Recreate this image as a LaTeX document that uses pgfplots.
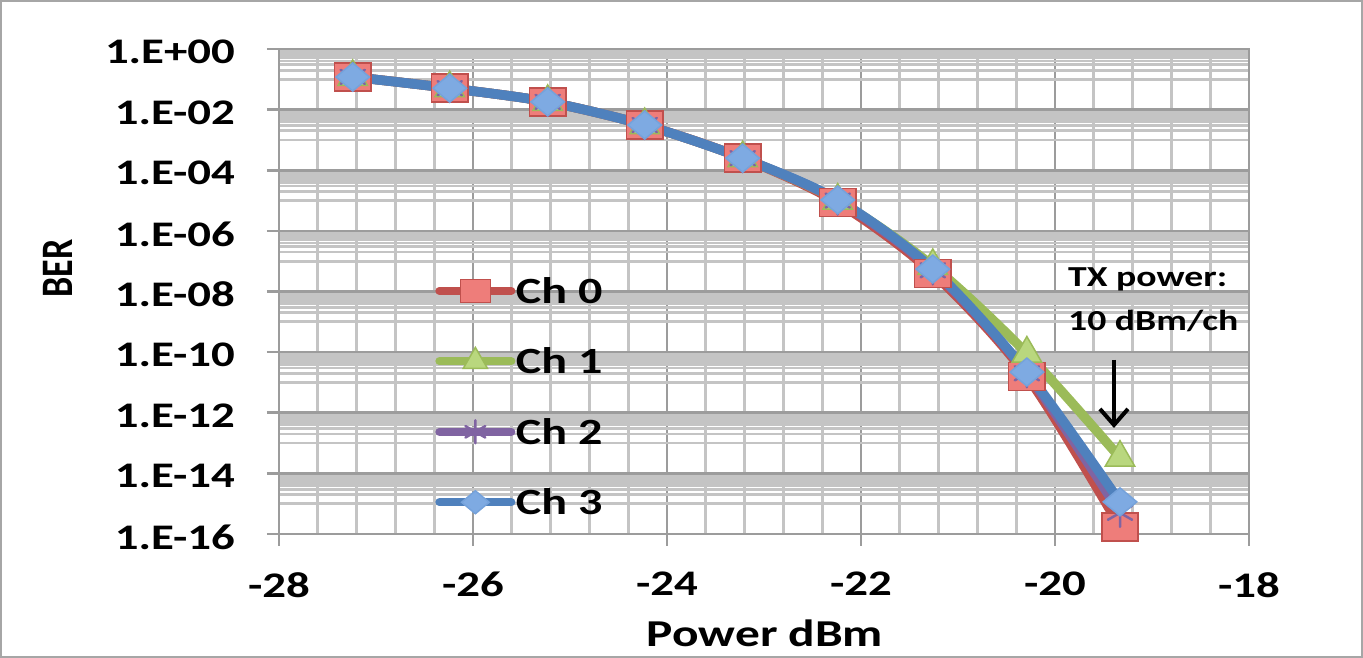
\documentclass[border=0pt]{standalone}
\usepackage{graphicx}
\usepackage{pgfplots}
\pgfplotsset{compat=1.18}
\usepackage{fontspec}
\setmainfont{Carlito}[FakeStretch=1.3]
\newfontfamily\plainfont{Carlito}
\usetikzlibrary{arrows.meta}
\definecolor{cr}{HTML}{C0504D}
\definecolor{crl}{HTML}{EE7D7A}
\definecolor{cg}{HTML}{9BBB59}
\definecolor{cgl}{HTML}{B9D77E}
\definecolor{cp}{HTML}{8064A2}
\definecolor{cb}{HTML}{4F81BD}
\definecolor{cbl}{HTML}{7EAAE2}
\definecolor{majg}{HTML}{9C9C9C}
\definecolor{ming}{HTML}{C4C4C4}
\definecolor{frame}{HTML}{A6A6A6}
\begin{document}
\begin{tikzpicture}
\path[use as bounding box] (0,0) rectangle (1363bp,658bp);
\draw[color=frame, line width=2bp] (1bp,1bp) rectangle (1362bp,657bp);
\begin{axis}[
  at={(279bp,124bp)}, anchor=south west,
  scale only axis, width=970bp, height=485bp,
  ymode=log, xmin=-28, xmax=-18, ymin=1e-16, ymax=1,
  clip=false,
  xtick={-28,-26,-24,-22,-20,-18},
  xticklabels={\textbf{-28},\textbf{-26},\textbf{-24},\textbf{-22},\textbf{-20},\textbf{-18}},
  ytick={1,1e-2,1e-4,1e-6,1e-8,1e-10,1e-12,1e-14,1e-16},
  yticklabels={\textbf{1.E+00},\textbf{1.E-02},\textbf{1.E-04},\textbf{1.E-06},\textbf{1.E-08},\textbf{1.E-10},\textbf{1.E-12},\textbf{1.E-14},\textbf{1.E-16}},
  minor x tick num=4,
  minor ytick={1e-1,2e-1,3e-1,4e-1,5e-1,6e-1,7e-1,8e-1,9e-1,
               1e-3,2e-3,3e-3,4e-3,5e-3,6e-3,7e-3,8e-3,9e-3,
               1e-5,2e-5,3e-5,4e-5,5e-5,6e-5,7e-5,8e-5,9e-5,
               1e-7,2e-7,3e-7,4e-7,5e-7,6e-7,7e-7,8e-7,9e-7,
               1e-9,2e-9,3e-9,4e-9,5e-9,6e-9,7e-9,8e-9,9e-9,
               1e-11,2e-11,3e-11,4e-11,5e-11,6e-11,7e-11,8e-11,9e-11,
               1e-13,2e-13,3e-13,4e-13,5e-13,6e-13,7e-13,8e-13,9e-13,
               1e-15,2e-15,3e-15,4e-15,5e-15,6e-15,7e-15,8e-15,9e-15},
  grid=both,
  major grid style={color=majg, line width=2.7bp},
  minor grid style={color=ming, line width=2.7bp},
  axis line style={color=majg, line width=2.7bp},
  tick pos=left,
  tick align=outside,
  major tick length=12bp,
  minor tick length=0pt,
  tick style={color=majg, line width=2.7bp},
  tick label style={font=\fontsize{36bp}{40bp}\selectfont\bfseries},
  yticklabel style={anchor=east, inner sep=0pt, xshift=-32bp, yshift=-3bp},
  xticklabel style={anchor=north, inner sep=0pt, yshift=-26bp},
  xlabel={\textbf{Power dBm}},
  xlabel style={at={(axis description cs:0.501,-0.204)}, anchor=center, font=\fontsize{38bp}{42bp}\selectfont\bfseries},
  ylabel={\scalebox{1}[1.25]{\plainfont\bfseries BER}},
  ylabel style={at={(axis description cs:-0.2278,0.548)}, anchor=center, font=\fontsize{36bp}{40bp}\selectfont\bfseries},
  legend style={at={(axis description cs:0.161,0.531)}, anchor=north west, draw=none, fill=none, inner sep=0pt, row sep=42bp,
    font=\fontsize{37bp}{40bp}\selectfont\bfseries, nodes={inner sep=0.5bp}},
  legend cell align=left,
  legend image code/.code={\draw[mark repeat=2,mark phase=2,#1,line width=8bp,line cap=round, every mark/.append style={scale=0.82}] plot coordinates {(0bp,0bp) (36bp,0bp) (72bp,0bp)};},
]
\addplot[color=cr, line width=9.5bp, line cap=round, smooth, mark=square*, mark size=14bp,
  mark options={xscale=1.3, fill=crl, draw=cr, line width=1.5bp}]
  coordinates {(-27.24,1.2e-1) (-26.24,5.1e-2) (-25.23,1.8e-2) (-24.23,3.1e-3) (-23.22,2.5e-4) (-22.24,8.5e-6) (-21.26,4e-8) (-20.29,1.6e-11) (-19.33,1.7e-16)};
\addlegendentry{Ch 0}
\addplot[color=cg, line width=9.5bp, line cap=round, smooth, mark=triangle*, mark size=17bp,
  mark options={fill=cgl, draw=cg, line width=1.5bp}]
  coordinates {(-27.24,1.2e-1) (-26.24,5.1e-2) (-25.23,1.8e-2) (-24.23,3.1e-3) (-23.22,2.5e-4) (-22.24,1.0e-5) (-21.26,7e-8) (-20.29,9e-11) (-19.33,3.3e-14)};
\addlegendentry{Ch 1}
\addplot[color=cp, line width=9.5bp, line cap=round, smooth, mark=asterisk, mark size=14bp,
  mark options={draw=cp, line width=2.5bp}]
  coordinates {(-27.24,1.2e-1) (-26.24,5.1e-2) (-25.23,1.8e-2) (-24.23,3.1e-3) (-23.22,2.5e-4) (-22.24,1.0e-5) (-21.26,5e-8) (-20.29,2e-11) (-19.33,5e-16)};
\addlegendentry{Ch 2}
\addplot[color=cb, line width=9.5bp, line cap=round, smooth, mark=diamond*, mark size=14bp,
  mark options={xscale=1.6, fill=cbl, draw=cbl!80!cb, line width=1.5bp}]
  coordinates {(-27.24,1.19e-1) (-26.24,5.1e-2) (-25.23,1.8e-2) (-24.23,3.1e-3) (-23.22,2.5e-4) (-22.24,1.05e-5) (-21.26,5.5e-8) (-20.29,2.2e-11) (-19.33,1.15e-15)};
\addlegendentry{Ch 3}
\node[anchor=north west, inner sep=0pt, align=left, font=\fontsize{29bp}{44bp}\selectfont\bfseries] at (rel axis cs:0.8134,0.5505) {TX power:\\10 dBm/ch};
\draw[line width=3.5bp, -{Straight Barb[length=16bp,width=28bp,line width=4bp]}] (rel axis cs:0.8608,0.3588) -- (rel axis cs:0.8608,0.2186);
\end{axis}
\end{tikzpicture}
\end{document}
